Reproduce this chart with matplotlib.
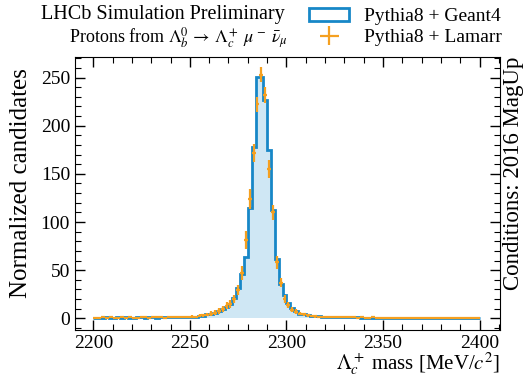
import numpy as np
import matplotlib
matplotlib.use("Agg")
import matplotlib.pyplot as plt
from matplotlib.ticker import MultipleLocator
from matplotlib.patches import Rectangle

plt.rcParams['font.family'] = ['Liberation Serif', 'DejaVu Serif']
plt.rcParams['mathtext.fontset'] = 'stix'

# ---- data -------------------------------------------------------------
mass_range = (2200, 2400)
n_bins = 100

geant4 = [
    0.6, 0.8, 0.7, 0.9, 0.6, 0.8, 1.0, 0.7, 0.9, 0.8,
    0.6, 0.9, 1.1, 0.8, 0.9, 1.0, 0.8, 1.2, 0.9, 1.1,
    1.0, 1.3, 1.2, 1.4, 1.3, 1.5, 1.8, 2.2, 2.8, 4.0,
    5.0, 6.0, 7.5, 9.5, 12.0, 15.0, 21.0, 31.0, 46.0, 64.0,
    115.0, 178.0, 251.0, 251.0, 227.0, 175.0, 112.0, 62.0, 36.0, 24.0,
    16.0, 11.0, 7.5, 5.0, 4.0, 3.2, 2.6, 2.2, 1.9, 1.7,
    1.5, 1.4, 1.3, 1.2, 1.1, 1.0, 1.0, 0.9, 0.9, 0.8,
    0.8, 0.8, 0.7, 0.7, 0.7, 0.6, 0.6, 0.6, 0.6, 0.5,
    0.5, 0.5, 0.5, 0.4, 0.5, 0.4, 0.4, 0.5, 0.4, 0.4,
    0.4, 0.3, 0.4, 0.4, 0.3, 0.4, 0.3, 0.3, 0.4, 0.3,
]

lamarr = [
    0.8, 0.5, 1.0, 0.7, 0.9, 0.5, 0.8, 1.1, 0.6, 1.0,
    0.7, 0.8, 1.2, 0.9, 0.7, 1.1, 1.0, 1.3, 0.8, 1.2,
    1.1, 1.5, 1.0, 1.6, 1.4, 1.8, 1.6, 2.5, 3.0, 3.8,
    5.0, 6.0, 7.5, 10.0, 13.0, 15.0, 20.0, 29.0, 47.0, 81.0,
    124.0, 172.0, 222.0, 253.0, 232.0, 155.0, 110.0, 58.0, 37.0, 20.0,
    14.0, 9.0, 7.0, 5.0, 4.0, 3.0, 2.5, 2.0, 1.8, 1.6,
    1.5, 1.2, 1.3, 1.1, 1.0, 1.1, 0.9, 1.0, 0.8, 0.9,
    0.8, 0.7, 0.9, 0.6, 0.7, 0.8, 0.5, 0.6, 0.7, 0.5,
    0.6, 0.5, 0.4, 0.6, 0.5, 0.4, 0.5, 0.6, 0.4, 0.5,
    0.3, 0.5, 0.4, 0.4, 0.6, 0.3, 0.4, 0.5, 0.3, 0.4,
]

lamarr_err = [
    1.0, 0.8, 1.0, 0.9, 1.0, 0.8, 0.9, 1.1, 0.8, 1.0,
    0.9, 0.9, 1.1, 1.0, 0.9, 1.1, 1.0, 1.2, 0.9, 1.1,
    1.1, 1.2, 1.0, 1.3, 1.2, 1.3, 1.3, 1.6, 1.7, 1.9,
    2.2, 2.4, 2.7, 3.1, 3.5, 3.8, 4.4, 5.3, 6.8, 9.5,
    10.5, 9.5, 8.0, 7.5, 8.0, 9.0, 8.0, 6.5, 5.0, 3.8,
    3.2, 2.7, 2.3, 2.0, 1.7, 1.5, 1.4, 1.2, 1.1, 1.1,
    1.0, 1.0, 1.0, 0.9, 0.9, 0.9, 0.8, 0.9, 0.8, 0.8,
    0.8, 0.7, 0.8, 0.7, 0.7, 0.8, 0.6, 0.7, 0.7, 0.6,
    0.7, 0.6, 0.6, 0.7, 0.6, 0.6, 0.6, 0.7, 0.6, 0.6,
    0.5, 0.6, 0.6, 0.6, 0.7, 0.5, 0.6, 0.6, 0.5, 0.6,
]

label_geant = "Pythia8 + Geant4"
label_lamarr = "Pythia8 + Lamarr"
title_main = "LHCb Simulation Preliminary"
title_sub = r"Protons from $\Lambda_b^0\,\rightarrow\,\Lambda_c^+\;\mu^-\;\bar{\nu}_\mu$"
conditions = "Conditions: 2016 MagUp"
xlabel = r"$\Lambda_c^+$ mass [MeV/$c^2$]"
ylabel = "Normalized candidates"

# ---- plot -------------------------------------------------------------
edges = np.linspace(mass_range[0], mass_range[1], n_bins + 1)
centers = 0.5 * (edges[:-1] + edges[1:])
half_w = 0.5 * (edges[1:] - edges[:-1])

blue = '#1787c7'
light = '#cfe7f4'
orange = '#f5a020'

fig = plt.figure(figsize=(5.24, 3.77), dpi=100)
ax = fig.add_axes([0.143, 0.125, 0.811, 0.723])

ax.stairs(geant4, edges, fill=True, color=light, linewidth=0)
ax.stairs(geant4, edges, color=blue, linewidth=2.0)
eb = ax.errorbar(centers, lamarr, xerr=half_w, yerr=lamarr_err, fmt='none',
                 ecolor=orange, elinewidth=1.6)

ax.set_xlim(2190.5, 2410.5)
ax.set_ylim(-12, 271)
ax.xaxis.set_major_locator(MultipleLocator(50))
ax.xaxis.set_minor_locator(MultipleLocator(10))
ax.yaxis.set_major_locator(MultipleLocator(50))
ax.yaxis.set_minor_locator(MultipleLocator(10))
ax.tick_params(which='both', direction='in', top=True, right=True, labelsize=14)
ax.tick_params(which='major', length=7, width=1)
ax.tick_params(which='minor', length=4, width=0.8)

ax.set_xlabel(xlabel, fontsize=15, loc='right', labelpad=-1)
ax.set_ylabel(ylabel, fontsize=18)
ax.yaxis.set_label_coords(-0.1, 0.54)

proxy = Rectangle((0, 0), 1, 1, facecolor='white', edgecolor=blue, linewidth=2.0)
ax.legend([proxy, eb], [label_geant, label_lamarr],
          loc='lower right', bbox_to_anchor=(1.023, 1.012), frameon=False,
          fontsize=14, handlelength=2.06, handleheight=0.62, handletextpad=0.75,
          labelspacing=0.2, borderaxespad=0.0)

fig.text(285 / 524, 1 - 14 / 377, title_main, ha='right', va='center', fontsize=14.5)
fig.text(288 / 524, 1 - 38 / 377, title_sub, ha='right', va='center', fontsize=13)
fig.text(513 / 524, 1 - 57 / 377, conditions, rotation=90, ha='center', va='top',
         fontsize=16.5)

fig.savefig("out.png", dpi=100)
